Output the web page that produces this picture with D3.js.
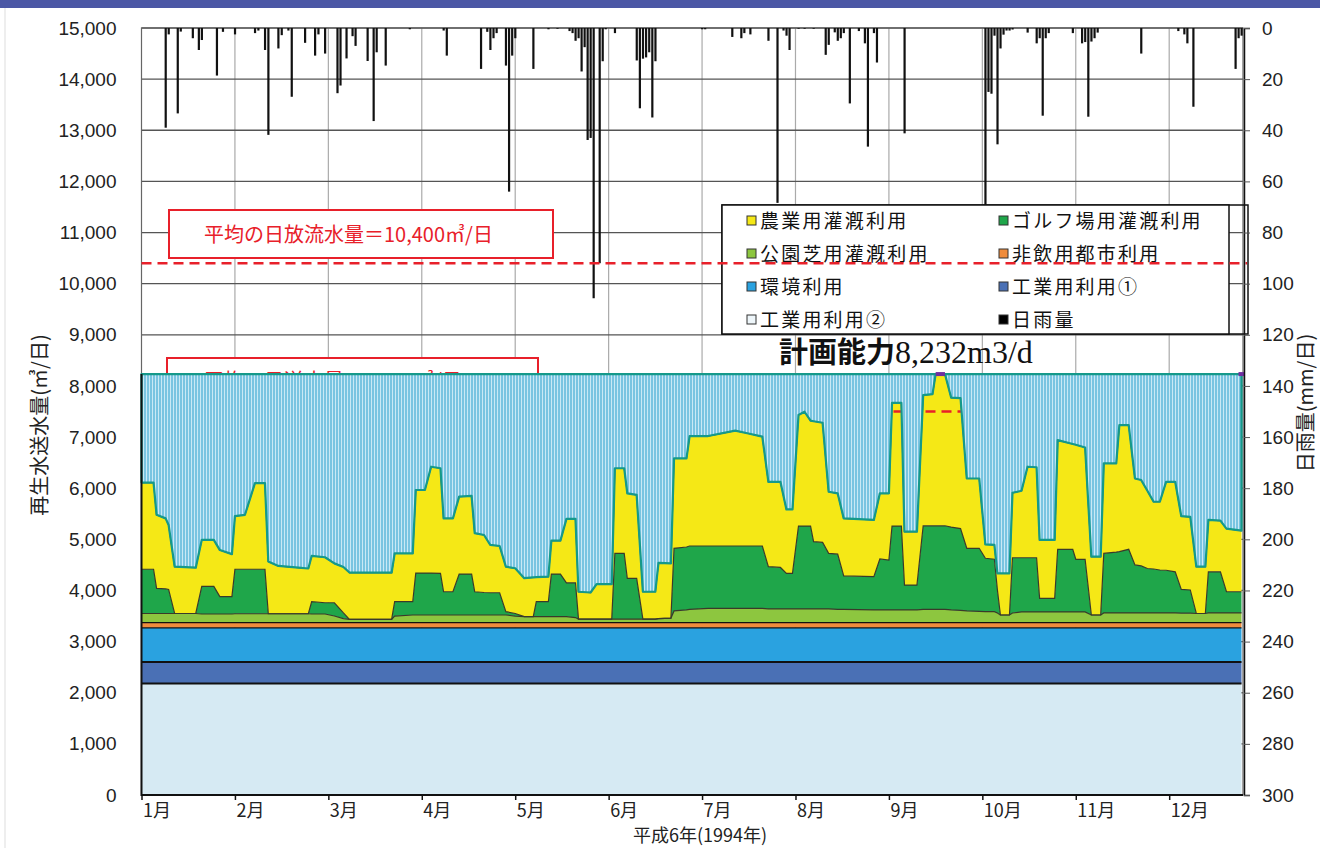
<!DOCTYPE html>
<html>
<head>
<meta charset="utf-8">
<script src="https://cdn.jsdelivr.net/npm/d3@7"></script>
<style>
  body { margin: 0; background: #fff; }
  text { font-family: "Liberation Sans", Arial, sans-serif; }
  .jp { font-family: "Noto Sans CJK JP", sans-serif; }
</style>
</head>
<body>
<svg id="chart" width="1320" height="848"></svg>
<script>
// ---- data ----
const monthLabels = ["1月","2月","3月","4月","5月","6月","7月","8月","9月","10月","11月","12月"];
const leftTicks = d3.range(0, 15001, 1000);
const rightTicks = d3.range(0, 301, 20);
const daysInMonth = [31,28,31,30,31,30,31,31,30,31,30,31];

const capacity = 8232;          // 計画能力
const avgDischarge = 10400;     // 平均の日放流水量
const avgSupplyLine = 7500;     // second (hidden) average line

// constant bands, bottom to top
const baseNames = ["工業用利用②", "工業用利用①", "環境利用", "非飲用都市利用"];
const baseValues = [2180, 420, 670, 100];

// dates where the usage series were read
const useDates = [
  "1/1","1/5","1/6","1/9","1/10","1/12","1/19","1/21","1/25","1/27","1/31",
  "2/1","2/4","2/7","2/10","2/11","2/14","2/20","2/23","2/24","2/28",
  "3/3","3/6","3/8","3/22","3/23","3/29","3/30",
  "4/2","4/4","4/7","4/8","4/11","4/13","4/17","4/18","4/21","4/23","4/26","4/28",
  "5/1","5/4","5/7","5/8","5/12","5/13","5/16","5/18","5/21","5/22","5/26","5/28",
  "6/2","6/3","6/6","6/7","6/10","6/12","6/16","6/17","6/21","6/22","6/26","6/27",
  "7/3","7/12","7/16","7/21","7/23","7/27","7/29","7/31",
  "8/2","8/4","8/6","8/7","8/10","8/12","8/15","8/17","8/27","8/29",
  "9/1","9/2","9/5","9/6","9/10","9/12","9/15","9/16","9/19","9/21","9/24","9/26","9/30",
  "10/2","10/5","10/6","10/7","10/10","10/11","10/14","10/16","10/19","10/20","10/25","10/26","10/31",
  "11/1","11/4","11/6","11/9","11/10","11/14","11/15","11/18","11/20","11/22","11/24","11/26","11/28","11/30",
  "12/3","12/5","12/8","12/10","12/13","12/14","12/18","12/20","12/25"
];
// 公園芝用灌漑利用
const parkUse = [
  180,180,180,180,180,180,180,170,170,170,170,
  175,175,175,175,175,175,175,175,170,170,
  130,80,65,65,130,150,150,
  150,150,150,150,150,150,150,150,150,150,150,150,
  130,120,120,120,120,120,120,120,100,70,70,70,
  70,70,70,70,70,70,70,80,90,230,250,260,
  280,280,280,280,270,270,270,270,
  270,270,270,270,270,270,260,260,250,250,
  250,250,250,250,250,260,260,260,260,250,240,230,220,
  215,215,190,150,150,190,210,210,210,210,210,210,210,
  210,210,150,150,190,190,190,190,190,190,190,190,190,190,
  190,185,185,180,180,190,190,190,190
];
// ゴルフ場用灌漑利用
const golfUse = [
  865,865,490,480,470,0,0,540,540,340,340,
  870,870,870,870,0,0,0,0,240,220,
  260,110,0,0,280,260,820,
  820,820,815,455,455,800,800,455,440,435,435,65,
  50,0,0,290,290,830,830,660,680,0,0,0,
  0,1285,1285,795,795,0,0,0,0,1225,1230,1240,
  1220,1220,1220,1220,825,810,695,695,
  1620,1620,1620,1315,1300,1085,1080,655,650,995,
  975,1640,1640,485,485,1635,1635,1635,1635,1620,1600,1225,1235,
  1045,1025,450,0,0,1080,1060,1060,1060,265,265,1225,1225,
  1030,1030,0,0,1165,1190,1200,1245,940,920,870,860,840,835,
  805,465,455,0,0,805,805,415,415
];
// 農業用灌漑利用
const agriUse = [
  1695,1695,1440,1380,1260,915,895,910,910,910,830,
  1040,1065,1685,1685,1020,935,900,885,895,890,
  770,900,915,915,945,945,1625,
  1625,2080,2055,1435,1435,1515,1530,1145,1125,935,915,880,
  885,750,765,480,490,655,655,1250,1250,535,520,685,
  685,1665,1665,1665,1635,535,535,1090,1070,1760,1735,2150,
  2150,2255,2205,2140,1660,1675,1250,1250,
  2170,2235,2060,2355,2340,1205,1190,1125,1110,1285,
  1305,2410,2410,1045,1045,2555,2575,2967,2967,2530,2550,1365,1365,
  270,280,325,815,815,1270,1310,1780,1770,1145,1145,2135,2060,
  2240,2185,1140,1140,1760,1735,2475,2430,1690,1680,1520,1315,1335,1730,
  1760,1435,1430,915,915,1015,1000,1235,1195
];

// 日雨量 (mm/日)
const rainDates = [
  "1/9","1/10","1/13","1/14","1/18","1/20","1/21","1/26","1/28",
  "2/1","2/7","2/8","2/10","2/11","2/14","2/15","2/17","2/18","2/22","2/25","2/26","2/28",
  "3/4","3/5","3/7","3/9","3/10","3/14","3/16","3/17","3/20","3/28",
  "4/8","4/9","4/20","4/22","4/23","4/24","4/25","4/28","4/29","4/30",
  "5/1","5/7","5/12","5/15","5/19","5/20","5/21","5/22","5/23","5/24","5/25","5/26","5/27","5/29","5/30","5/31",
  "6/3","6/10","6/11","6/12","6/13","6/14","6/15","6/16",
  "7/1","7/2","7/11","7/14","7/15","7/17","7/23","7/26","7/28","7/29","7/30",
  "8/2","8/4","8/7","8/11","8/12","8/14","8/15","8/16","8/17","8/19","8/22","8/24","8/25","8/27","8/28",
  "9/6",
  "10/2","10/3","10/4","10/5","10/6","10/7","10/8","10/9","10/10","10/11","10/16","10/19","10/20","10/21","10/22","10/23","10/31",
  "11/3","11/4","11/5","11/6","11/7","11/8","11/22",
  "12/4","12/6","12/7","12/9","12/23","12/24","12/25"
];
const rainMm = [
  39,2.5,33.4,1.4,4,8.6,4.7,18.6,1.5,
  2.5,2,1,8.6,41.8,8,2.8,1,26.9,5.8,10.8,2.5,10,
  25.5,22.5,11.9,3.2,7,12.9,36.4,9.5,14.7,0.5,
  1,10.8,16,1.5,8.6,4,2,14.7,64,10.8,
  4,16,0.5,0.3,1.2,2,5,4,17,7.5,43.8,43,105.7,92,13,0.5,
  2,12.7,31.4,12,11.5,9.5,35,13,
  0.5,0.5,3.5,4,2,2.5,5,68.4,1,3,8.6,
  0.3,0.3,0.3,10.5,6.6,1.7,5,4,2,29.5,1.2,6,46.4,2,13.5,
  41.2,
  75,25,25.7,3,45.5,8,2.6,1,1,0.6,1.8,6,4,34.3,4,2,2,
  6,5.5,34.7,5.3,4,1.8,10,
  1.2,2.5,6,30.8,16,4,3
];

// spans where the supply touched the capacity line
const capSpans = [["9/16","9/19"], ["12/24","12/26"]];

const legendItems = [
  ["農業用灌漑利用", "#f5e816"], ["ゴルフ場用灌漑利用", "#1fa64a"],
  ["公園芝用灌漑利用", "#8dc63f"], ["非飲用都市利用", "#f08c3c"],
  ["環境利用", "#2aa2e0"], ["工業用利用①", "#4a70b5"],
  ["工業用利用②", "#eef6fa"], ["日雨量", "#000"]
];

// ---- helpers ----
function monthPos(s) {
  const [m, d] = s.split("/").map(Number);
  return m - 1 + (d - 1) / daysInMonth[m - 1];
}

const svg = d3.select("#chart");

const x = d3.scaleLinear().domain([0, 11.79]).range([141.5, 1243]);
const y = d3.scaleLinear().domain([0, 15000]).range([795, 28]);
const yRain = d3.scaleLinear().domain([0, 300]).range([28, 795]);

// page decoration
svg.append("rect").attr("x", 0).attr("y", 0).attr("width", 1320).attr("height", 8).attr("fill", "#4b57a5");
svg.append("line").attr("x1", 5).attr("x2", 5).attr("y1", 8).attr("y2", 848).attr("stroke", "#ddd");

// grid
svg.append("g").selectAll("line")
  .data(d3.range(1, 12))
  .join("line")
  .attr("x1", d => x(d)).attr("x2", d => x(d))
  .attr("y1", y(15000)).attr("y2", y(0))
  .attr("stroke", "#aaa").attr("stroke-width", 1.2);

svg.append("g").selectAll("line")
  .data(leftTicks)
  .join("line")
  .attr("x1", x(0)).attr("x2", 1243)
  .attr("y1", d => y(d)).attr("y2", d => y(d))
  .attr("stroke", "#555").attr("stroke-width", 1.3);

// frame
svg.append("rect").attr("x", x(0)).attr("y", y(15000))
  .attr("width", 1243 - x(0)).attr("height", y(0) - y(15000))
  .attr("fill", "none").attr("stroke", "#666").attr("stroke-width", 1.2);

// first red box
svg.append("rect").attr("x", 169).attr("y", 210).attr("width", 384).attr("height", 48)
  .attr("fill", "#fff").attr("stroke", "#e8202a").attr("stroke-width", 2);
svg.append("text").attr("class", "jp").attr("x", 204).attr("y", 242)
  .attr("fill", "#e8202a").attr("font-size", 20)
  .text("平均の日放流水量＝10,400㎥/日");

// rain bars
const rain = rainDates.map((d, i) => ({ pos: monthPos(d), mm: rainMm[i] }));
svg.append("g").selectAll("rect")
  .data(rain)
  .join("rect")
  .attr("x", d => x(d.pos) - 1)
  .attr("y", yRain(0))
  .attr("width", 2.2)
  .attr("height", d => yRain(d.mm) - yRain(0))
  .attr("fill", "#111");

// second red box (mostly hidden behind the stack)
svg.append("rect").attr("x", 167).attr("y", 358).attr("width", 371).attr("height", 48)
  .attr("fill", "#fff").attr("stroke", "#e8202a").attr("stroke-width", 2);
svg.append("text").attr("class", "jp").attr("x", 204).attr("y", 388)
  .attr("fill", "#e8202a").attr("font-size", 20)
  .text("平均の日送水量＝5,270㎥/日");

// ---- stacked usage ----
const keys = ["ind2", "ind1", "env", "urban", "park", "golf", "agri"];
const colors = {
  ind2: "#d6eaf3", ind1: "#4a70b5", env: "#2aa2e0", urban: "#f08c3c",
  park: "#8dc63f", golf: "#1fa64a", agri: "#f5e816"
};
const rows = useDates.map((d, i) => ({
  pos: monthPos(d),
  ind2: baseValues[0], ind1: baseValues[1], env: baseValues[2], urban: baseValues[3],
  park: parkUse[i], golf: golfUse[i], agri: agriUse[i]
}));

const series = d3.stack().keys(keys)(rows);

const area = d3.area()
  .x(d => x(d.data.pos))
  .y0(d => y(d[0]))
  .y1(d => y(d[1]));
const topLine = d3.line()
  .x(d => x(d.data.pos))
  .y(d => y(d[1]));

svg.append("g").selectAll("path")
  .data(series)
  .join("path")
  .attr("d", area)
  .attr("fill", d => colors[d.key]);

svg.append("g").selectAll("path")
  .data(series)
  .join("path")
  .attr("d", topLine)
  .attr("fill", "none")
  .attr("stroke", d => ["ind2", "ind1", "env", "urban"].includes(d.key) ? "#111" : "#3a3a2a")
  .attr("stroke-width", d => ["ind2", "ind1"].includes(d.key) ? 2 : 1.2);

// hidden average line, visible only where the supply exceeds it
svg.append("line")
  .attr("x1", x(0)).attr("x2", 1243)
  .attr("y1", y(avgSupplyLine)).attr("y2", y(avgSupplyLine))
  .attr("stroke", "#e8202a").attr("stroke-width", 2.5)
  .attr("stroke-dasharray", "10,6");

// unused capacity, hatched
const defs = svg.append("defs");
const pat = defs.append("pattern").attr("id", "hatch")
  .attr("patternUnits", "userSpaceOnUse").attr("width", 3).attr("height", 10);
pat.append("rect").attr("width", 3).attr("height", 10).attr("fill", "#79c4e1");
pat.append("rect").attr("x", 2).attr("width", 1).attr("height", 10).attr("fill", "#c9e9f5");

const totals = rows.map(r => ({ pos: r.pos, total: keys.reduce((s, k) => s + r[k], 0) }));
const spareArea = d3.area()
  .x(d => x(d.pos))
  .y0(d => y(d.total))
  .y1(y(capacity));
svg.append("path").datum(totals)
  .attr("d", spareArea)
  .attr("fill", "url(#hatch)")
  .attr("stroke", "#15998a").attr("stroke-width", 2.2)
  .attr("stroke-linejoin", "round");

// left and bottom border of the stack
svg.append("path")
  .attr("d", `M${x(0)},${y(capacity)}V${y(0)}H1243`)
  .attr("fill", "none").attr("stroke", "#111").attr("stroke-width", 2);

// capacity reached marks
svg.append("g").selectAll("line")
  .data(capSpans)
  .join("line")
  .attr("x1", d => x(monthPos(d[0]))).attr("x2", d => Math.min(x(monthPos(d[1])), 1247))
  .attr("y1", y(capacity)).attr("y2", y(capacity))
  .attr("stroke", "#7030a0").attr("stroke-width", 4);

// ---- legend ----
svg.append("rect").attr("x", 722).attr("y", 205).attr("width", 526).attr("height", 129)
  .attr("fill", "none").attr("stroke", "#111").attr("stroke-width", 1.5);
svg.append("rect").attr("x", 722).attr("y", 205).attr("width", 507).attr("height", 129)
  .attr("fill", "#fff").attr("stroke", "#111").attr("stroke-width", 1.5);

const leg = svg.append("g").selectAll("g")
  .data(legendItems)
  .join("g")
  .attr("transform", (d, i) => `translate(${i % 2 ? 999 : 747},${221 + Math.floor(i / 2) * 33})`);
leg.append("rect").attr("x", 0).attr("y", -5).attr("width", 9).attr("height", 9)
  .attr("fill", d => d[1]).attr("stroke", "#333").attr("stroke-width", 1);
leg.append("text").attr("class", "jp").attr("x", 13).attr("y", 7)
  .attr("font-size", 19).attr("letter-spacing", 2.2).attr("fill", "#111")
  .text(d => d[0]);

// red average discharge line, drawn over the legend
svg.append("line")
  .attr("x1", x(0)).attr("x2", 1247)
  .attr("y1", y(avgDischarge)).attr("y2", y(avgDischarge))
  .attr("stroke", "#e8202a").attr("stroke-width", 2.5)
  .attr("stroke-dasharray", "10,6");

// capacity label
const cap = svg.append("text").attr("x", 779).attr("y", 363).attr("fill", "#111");
cap.append("tspan").attr("class", "jp").attr("font-size", 29).attr("font-weight", 700)
  .style("font-family", "'Noto Sans CJK JP', sans-serif").text("計画能力");
cap.append("tspan").attr("font-size", 32)
  .style("font-family", "'Liberation Serif', 'Times New Roman', serif").text("8,232m3/d");

// ---- axes ----
const gLeft = svg.append("g")
  .attr("transform", `translate(${x(0)},0)`)
  .call(d3.axisLeft(y).tickValues(leftTicks).tickSize(0).tickPadding(25).tickFormat(d3.format(",")));
gLeft.select(".domain").remove();
gLeft.selectAll("text").attr("font-size", 19).attr("fill", "#222")
  .style("font-family", "'Liberation Sans', Arial, sans-serif");

const gRight = svg.append("g")
  .attr("transform", "translate(1244,0)")
  .call(d3.axisRight(yRain).tickValues(rightTicks).tickSize(6).tickPadding(12));
gRight.select(".domain").attr("stroke", "#111").attr("stroke-width", 1.5);
gRight.selectAll("line").attr("stroke", "#555");
gRight.selectAll("text").attr("font-size", 19).attr("fill", "#222")
  .style("font-family", "'Liberation Sans', Arial, sans-serif");

const gBottom = svg.append("g")
  .attr("transform", `translate(0,${y(0)})`)
  .call(d3.axisBottom(x).tickValues(d3.range(12)).tickSize(5).tickPadding(4)
    .tickFormat(i => monthLabels[i]));
gBottom.select(".domain").remove();
gBottom.selectAll("line").attr("stroke", "#111").attr("stroke-width", 1.5);
gBottom.selectAll("text")
  .attr("text-anchor", "start").attr("dx", 1).attr("dy", 13)
  .attr("font-size", 18).attr("fill", "#222")
  .style("font-family", "'Noto Sans CJK JP', sans-serif");

svg.append("text").attr("class", "jp")
  .attr("x", 700).attr("y", 842).attr("text-anchor", "middle")
  .attr("font-size", 18).attr("fill", "#222")
  .text("平成6年(1994年)");

svg.append("text").attr("class", "jp")
  .attr("transform", "translate(47,425) rotate(-90)")
  .attr("text-anchor", "middle").attr("font-size", 20).attr("fill", "#222")
  .text("再生水送水量(㎥/日)");

svg.append("text").attr("class", "jp")
  .attr("transform", "translate(1313,403) rotate(-90)")
  .attr("text-anchor", "middle").attr("font-size", 20).attr("fill", "#222")
  .text("日雨量(mm/日)");
</script>
</body>
</html>
